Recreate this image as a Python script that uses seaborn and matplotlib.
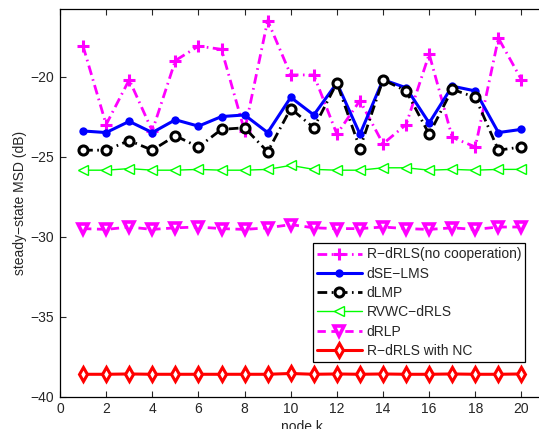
import numpy as np
import pandas as pd
import seaborn as sns
import matplotlib
matplotlib.use("Agg")
import matplotlib.pyplot as plt

# node index
nodes = list(range(1, 21))

# steady-state MSD (dB) per node
msd_rdrls_nocoop = [-18.1, -23.0, -20.2, -23.4, -19.0, -18.1, -18.3, -23.4, -16.5, -19.9,
                    -19.9, -23.6, -21.5, -24.2, -23.0, -18.6, -23.8, -24.4, -17.6, -20.2]
msd_dse_lms = [-23.4, -23.5, -22.8, -23.5, -22.7, -23.1, -22.5, -22.4, -23.5, -21.3,
               -22.4, -20.4, -23.6, -20.2, -20.7, -22.9, -20.6, -20.9, -23.5, -23.3]
msd_dlmp = [-24.6, -24.6, -24.0, -24.6, -23.7, -24.4, -23.3, -23.2, -24.7, -22.0,
            -23.2, -20.4, -24.5, -20.2, -20.9, -23.6, -20.8, -21.3, -24.6, -24.4]
msd_rvwc = [-25.85, -25.85, -25.75, -25.85, -25.85, -25.8, -25.85, -25.85, -25.8, -25.55,
            -25.8, -25.85, -25.85, -25.7, -25.7, -25.85, -25.8, -25.85, -25.8, -25.8]
msd_drlp = [-29.5, -29.55, -29.4, -29.55, -29.45, -29.4, -29.5, -29.55, -29.45, -29.25,
            -29.45, -29.5, -29.5, -29.4, -29.5, -29.55, -29.45, -29.55, -29.4, -29.4]
msd_rdrls_nc = [-38.6, -38.6, -38.58, -38.6, -38.6, -38.6, -38.6, -38.6, -38.6, -38.55,
                -38.6, -38.58, -38.6, -38.58, -38.6, -38.6, -38.58, -38.6, -38.6, -38.58]

labels = ["R\u2212dRLS(no cooperation)", "dSE\u2212LMS", "dLMP",
          "RVWC\u2212dRLS", "dRLP", "R\u2212dRLS with NC"]

sns.set_style("ticks")
plt.rcParams["font.family"] = ["Liberation Sans", "DejaVu Sans"]
plt.rcParams["font.size"] = 10
plt.rcParams["axes.unicode_minus"] = True

fig = plt.figure(figsize=(5.39, 4.29), dpi=100)
ax = fig.add_axes([0.1113, 0.0753, 0.899, 0.903])

dashdot = (0, (3.5, 1.6, 0.6, 1.6))
series = [
    (msd_rdrls_nocoop, dict(color="#ff00ff", linestyle=dashdot, linewidth=2, marker="+",
                            markersize=8, markeredgecolor="#ff00ff", markeredgewidth=2.2)),
    (msd_dse_lms, dict(color="#0000ff", linestyle="-", linewidth=2.2, marker="o",
                       markersize=6, markerfacecolor="#0000ff", markeredgewidth=0)),
    (msd_dlmp, dict(color="black", linestyle=dashdot, linewidth=2, marker="o",
                    markersize=6.5, markerfacecolor="white", markeredgecolor="black",
                    markeredgewidth=2.2)),
    (msd_rvwc, dict(color="#00ff00", linestyle="-", linewidth=1, marker="<",
                    markersize=7, markerfacecolor="white", markeredgecolor="#00ff00",
                    markeredgewidth=1)),
    (msd_drlp, dict(color="#ff00ff", linestyle=(0, (3, 2)), linewidth=2, marker="v",
                    markersize=7.5, markerfacecolor="white", markeredgecolor="#ff00ff",
                    markeredgewidth=2.6)),
    (msd_rdrls_nc, dict(color="#ff0000", linestyle="-", linewidth=2.2, marker="d",
                        markersize=7.5, markerfacecolor="white", markeredgecolor="#ff0000",
                        markeredgewidth=2.2)),
]

for (vals, style), lab in zip(series, labels):
    df = pd.DataFrame({"node": nodes, "msd": vals})
    sns.lineplot(data=df, x="node", y="msd", ax=ax, label=lab, errorbar=None,
                 sort=False, **style)

ax.set_xlim(0, 21)
ax.set_ylim(-40, -15.8)
ax.set_xticks(range(0, 21, 2))
ax.set_yticks([-40, -35, -30, -25, -20])
ax.tick_params(direction="in", length=4, width=0.8, top=True, right=True, labelsize=10)
ax.tick_params(axis="x", pad=4)
ax.tick_params(axis="y", pad=4)
for sp in ax.spines.values():
    sp.set_linewidth(0.9)
    sp.set_color("black")

ax.set_xlabel("node k", fontsize=10, labelpad=3)
ax.set_ylabel("steady\u2212state MSD (dB)", fontsize=10, labelpad=3)

leg = ax.legend(loc="lower right", bbox_to_anchor=(0.960, 0.0896), borderaxespad=0,
                fontsize=10, frameon=True, fancybox=False, framealpha=1,
                edgecolor="black", handlelength=3.2, handletextpad=0.35,
                labelspacing=0.38, borderpad=0.3)
leg.get_frame().set_linewidth(0.9)

fig.savefig("out.png", dpi=100)
